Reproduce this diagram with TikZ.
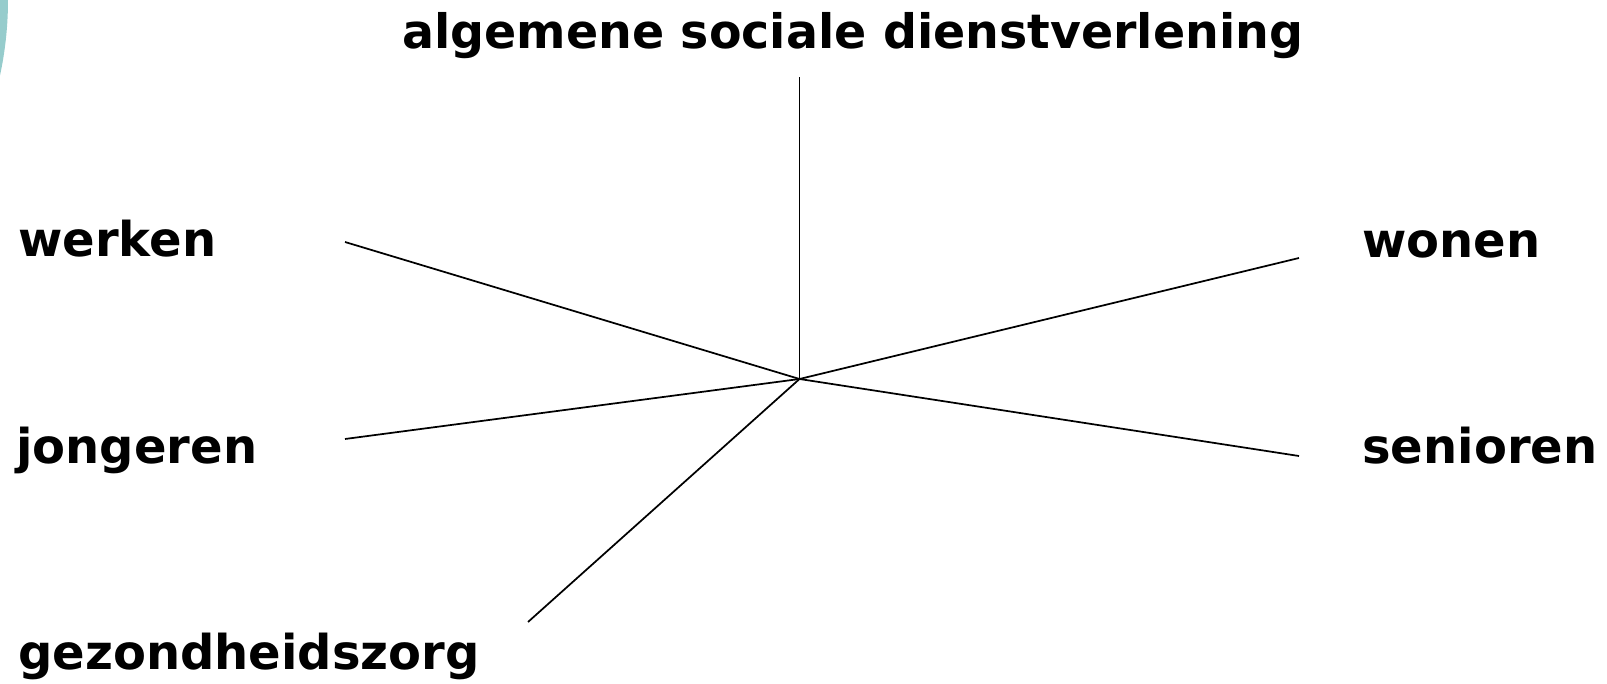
\documentclass[tikz,border=0pt]{standalone}
\usepackage{fontspec}
\setmainfont{DejaVu Sans}
\definecolor{arcteal}{RGB}{150,204,204}
\begin{document}
\begin{tikzpicture}[x=0.75pt,y=-0.75pt,
  lbl/.style={font=\bfseries\fontsize{36}{40}\selectfont, inner sep=0pt, anchor=base west},
  spoke/.style={line width=1.3pt, black}]
\useasboundingbox (0,0) rectangle (1607,684);
\clip (0,0) rectangle (1607,684);
\fill[arcteal] (-349,0) circle (357);
\node[lbl, font=\bfseries\fontsize{35.6}{40}\selectfont] (asd) at (402,49) {algemene sociale dienstverlening};
\node[lbl] (werken) at (18,257) {werken};
\node[lbl] (jong) at (16,463) {jongeren};
\node[lbl] (gez) at (18,669) {gezondheidszorg};
\node[lbl] (wonen) at (1362,258) {wonen};
\node[lbl] (sen) at (1362,463) {senioren};
\coordinate (c) at (799.5,379);
\coordinate (tA) at (799.5,77);
\coordinate (tW) at (345,242);
\coordinate (tJ) at (345,439);
\coordinate (tG) at (528,622);
\coordinate (tWo) at (1299,258);
\coordinate (tS) at (1299,456);
\draw[spoke] (c) -- (tA);
\draw[spoke] (c) -- (tW);
\draw[spoke] (c) -- (tJ);
\draw[spoke] (c) -- (tG);
\draw[spoke] (c) -- (tWo);
\draw[spoke] (c) -- (tS);
\end{tikzpicture}
\end{document}
